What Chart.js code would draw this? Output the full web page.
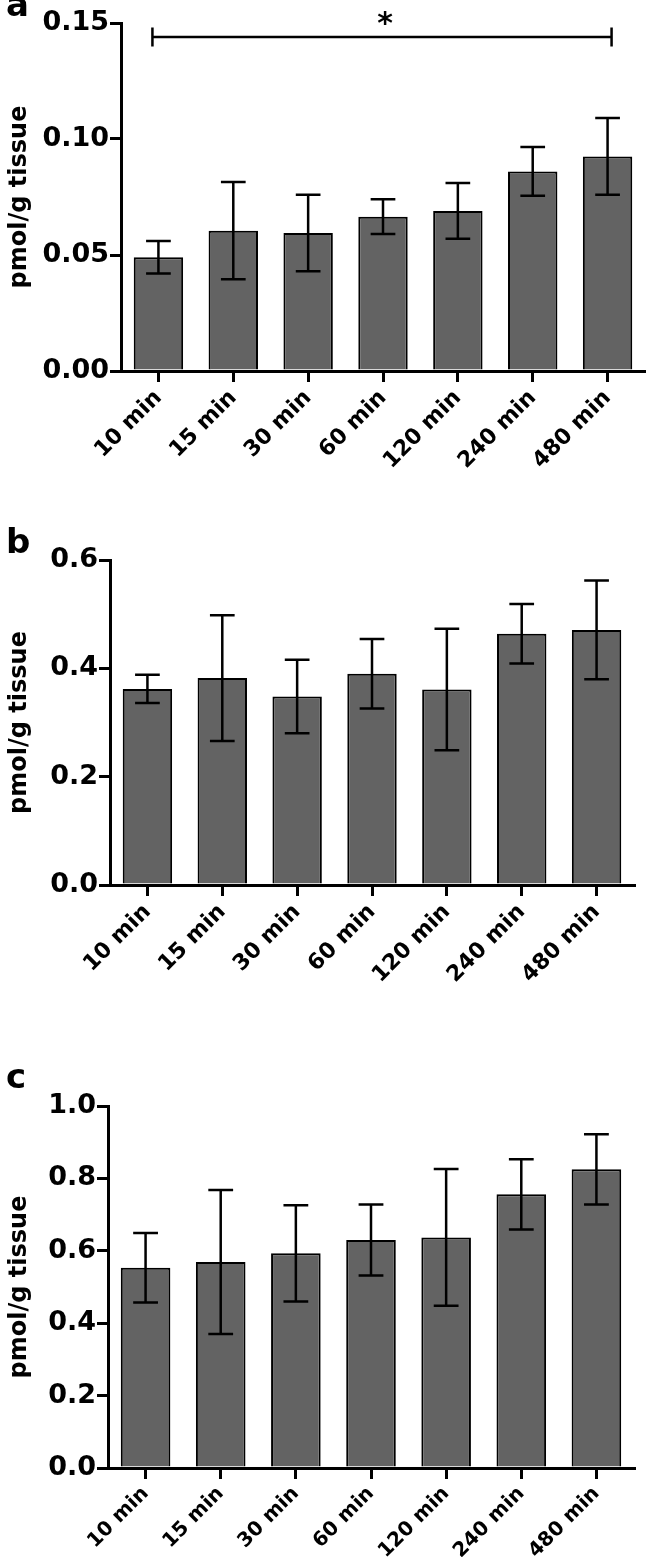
<!DOCTYPE html>
<html>
<head>
<meta charset="utf-8">
<script src="https://cdn.jsdelivr.net/npm/chart.js@4.4.1/dist/chart.umd.min.js"></script>
<style>
body { margin: 0; background: #fff; }
#wrap { position: relative; width: 646px; height: 1557px; overflow: hidden; }
canvas { position: absolute; left: 0; }
</style>
</head>
<body>
<div id="wrap">
  <canvas id="chartA" width="646" height="510" style="top:0px"></canvas>
  <canvas id="chartB" width="646" height="500" style="top:510px"></canvas>
  <canvas id="chartC" width="646" height="547" style="top:1010px"></canvas>
</div>
<script>
// sampling times
var timePoints = ['10 min', '15 min', '30 min', '60 min', '120 min', '240 min', '480 min'];

// panel a
var meanA = [0.049, 0.0605, 0.0595, 0.0665, 0.069, 0.086, 0.0925];
var semA = [0.007, 0.021, 0.0165, 0.0075, 0.012, 0.0105, 0.0165];
var ticksA = [0, 0.05, 0.10, 0.15];
// significance bracket between first and last time point
var sigPairA = [0, 6];
var sigLevelA = 0.144;

// panel b
var meanB = [0.362, 0.382, 0.348, 0.390, 0.361, 0.464, 0.471];
var semB = [0.026, 0.116, 0.068, 0.064, 0.112, 0.055, 0.091];
var ticksB = [0, 0.2, 0.4, 0.6];

// panel c
var meanC = [0.553, 0.569, 0.593, 0.630, 0.637, 0.756, 0.825];
var semC = [0.096, 0.199, 0.133, 0.098, 0.189, 0.097, 0.097];
var ticksC = [0, 0.2, 0.4, 0.6, 0.8, 1.0];

var FONT = '"DejaVu Sans", "Liberation Sans", Arial, sans-serif';

// mean +/- sem whiskers
var errorBars = {
    id: 'errorBars',
    afterDatasetsDraw: function (chart) {
        var ctx = chart.ctx;
        var y = chart.scales.y;
        var ds = chart.data.datasets[0];
        var meta = chart.getDatasetMeta(0);
        ctx.save();
        ctx.strokeStyle = '#000';
        ctx.lineWidth = 2.5;
        meta.data.forEach(function (bar, i) {
            var hi = y.getPixelForValue(ds.data[i] + ds.errors[i]);
            var lo = y.getPixelForValue(ds.data[i] - ds.errors[i]);
            var cap = bar.width / 4;
            ctx.beginPath();
            ctx.moveTo(bar.x, hi); ctx.lineTo(bar.x, lo);
            ctx.moveTo(bar.x - cap, hi); ctx.lineTo(bar.x + cap, hi);
            ctx.moveTo(bar.x - cap, lo); ctx.lineTo(bar.x + cap, lo);
            ctx.stroke();
        });
        ctx.restore();
    }
};

// panel letter + optional significance bracket
var extras = {
    id: 'extras',
    afterDraw: function (chart, args, opts) {
        var ctx = chart.ctx;
        ctx.save();
        ctx.fillStyle = '#000';
        ctx.font = 'bold 34px ' + FONT;
        ctx.textBaseline = 'alphabetic';
        ctx.textAlign = 'left';
        ctx.fillText(opts.letter, 6, opts.letterY);
        if (opts.sig) {
            var x = chart.scales.x, y = chart.scales.y;
            var x1 = x.getPixelForValue(opts.sig.pair[0]) - 6;
            var x2 = x.getPixelForValue(opts.sig.pair[1]) + 4;
            var yy = y.getPixelForValue(opts.sig.level);
            ctx.strokeStyle = '#000';
            ctx.lineWidth = 2.5;
            ctx.beginPath();
            ctx.moveTo(x1, yy); ctx.lineTo(x2, yy);
            ctx.moveTo(x1, yy - 9.5); ctx.lineTo(x1, yy + 9.5);
            ctx.moveTo(x2, yy - 9.5); ctx.lineTo(x2, yy + 9.5);
            ctx.stroke();
            ctx.font = 'bold 30px ' + FONT;
            ctx.textAlign = 'center';
            ctx.fillText('*', (x1 + x2) / 2 + 3, yy - 4);
        }
        ctx.restore();
    }
};

function makePanel(id, means, sems, ticks, decimals, yWidth, xHeight, pad, letter, letterY, sig, xFont) {
    return new Chart(document.getElementById(id), {
        type: 'bar',
        data: {
            labels: timePoints,
            datasets: [{
                data: means,
                errors: sems,
                backgroundColor: '#636363',
                borderColor: '#000',
                borderWidth: 2,
                barPercentage: 0.66,
                categoryPercentage: 1
            }]
        },
        options: {
            responsive: false,
            animation: false,
            layout: { padding: pad },
            plugins: {
                legend: { display: false },
                tooltip: { enabled: false },
                extras: { letter: letter, letterY: letterY, sig: sig }
            },
            scales: {
                x: {
                    offset: true,
                    border: { display: true, color: '#000', width: 3 },
                    grid: { display: true, offset: false, drawOnChartArea: false, color: '#000', lineWidth: 3, tickLength: 11 },
                    ticks: { color: '#000', font: { family: FONT, size: xFont, weight: 'bold' }, maxRotation: 45, minRotation: 45, padding: 3 },
                    afterFit: function (s) { s.height = xHeight; }
                },
                y: {
                    min: ticks[0],
                    max: ticks[ticks.length - 1],
                    afterBuildTicks: function (s) { s.ticks = ticks.map(function (v) { return { value: v }; }); },
                    border: { display: true, color: '#000', width: 3 },
                    grid: { drawOnChartArea: false, color: '#000', lineWidth: 3, tickLength: 11 },
                    ticks: {
                        color: '#000', padding: 1,
                        font: { family: FONT, size: 27, weight: 'bold' },
                        callback: function (v) { return Number(v).toFixed(decimals); }
                    },
                    title: { display: true, text: 'pmol/g tissue', color: '#000', padding: { top: 5, bottom: 0 }, font: { family: FONT, size: 24, weight: 'bold' } },
                    afterFit: function (s) { s.width = yWidth; }
                }
            }
        },
        plugins: [errorBars, extras]
    });
}

makePanel('chartA', meanA, semA, ticksA, 2, 121, 139, { top: 23, left: 0, right: 1, bottom: 0 }, 'a', 16,
    { pair: sigPairA, level: sigLevelA }, 22);
makePanel('chartB', meanB, semB, ticksB, 1, 110, 125, { top: 50, left: 0, right: 12, bottom: 0 }, 'b', 43, null, 22);
makePanel('chartC', meanC, semC, ticksC, 1, 108, 89, { top: 96, left: 0, right: 12, bottom: 0 }, 'c', 78, null, 20);
</script>
</body>
</html>
